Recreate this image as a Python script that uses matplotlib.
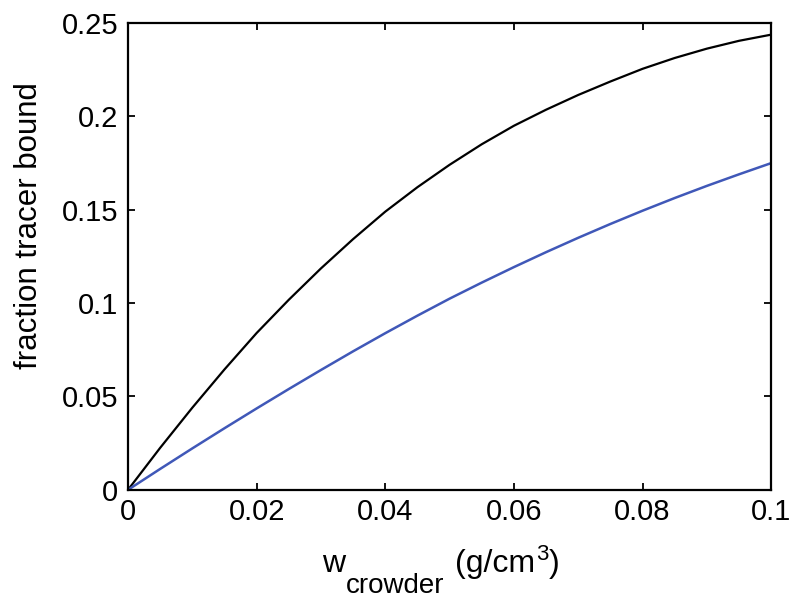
import matplotlib
matplotlib.use('Agg')
import matplotlib.pyplot as plt

# ── values ────────────────────────────────────────────────────────────────
w_crowder = [0.0, 0.005, 0.01, 0.015, 0.02, 0.025, 0.03, 0.035, 0.04, 0.045, 0.05,
             0.055, 0.06, 0.065, 0.07, 0.075, 0.08, 0.085, 0.09, 0.095, 0.1]
bound_black = [0.0, 0.0225, 0.044, 0.0645, 0.084, 0.1018, 0.1186, 0.1343, 0.149, 0.1621, 0.1741,
               0.1851, 0.195, 0.2036, 0.2115, 0.2187, 0.2255, 0.2313, 0.2363, 0.2405, 0.2438]
bound_blue = [0.0, 0.0112, 0.0222, 0.033, 0.0436, 0.054, 0.0642, 0.0742, 0.0839, 0.0933, 0.1024,
              0.111, 0.1193, 0.1273, 0.135, 0.1424, 0.1495, 0.1563, 0.1628, 0.169, 0.175]

xticks = [0, 0.02, 0.04, 0.06, 0.08, 0.1]
xtick_labels = ['0', '0.02', '0.04', '0.06', '0.08', '0.1']
yticks = [0, 0.05, 0.1, 0.15, 0.2, 0.25]
ytick_labels = ['0', '0.05', '0.1', '0.15', '0.2', '0.25']

plt.rcParams['font.family'] = ['Liberation Sans', 'DejaVu Sans']

fig = plt.figure(figsize=(8, 6.07), dpi=100)
# axes box: 128..771 px across, 23..490 px down
ax = fig.add_axes([0.16, 0.193, 0.804, 0.769])

ax.plot(w_crowder, bound_black, color='black', lw=1.6, solid_joinstyle='round')
ax.plot(w_crowder, bound_blue, color='#4058b8', lw=1.8, solid_joinstyle='round')

ax.set_xlim(0, 0.1)
ax.set_ylim(0, 0.25)
ax.set_xticks(xticks)
ax.set_xticklabels(xtick_labels)
ax.set_yticks(yticks)
ax.set_yticklabels(ytick_labels)
ax.tick_params(direction='in', length=5, width=1.3, top=True, right=True,
               labelsize=21)
ax.tick_params(axis='x', pad=6)
ax.tick_params(axis='y', pad=7)
for s in ax.spines.values():
    s.set_linewidth(1.6)

ax.set_ylabel('fraction tracer bound', fontsize=22.5)
ax.yaxis.set_label_coords(-0.13, 0.567)

# x label built from pieces so the subscript stays near full size
t1 = fig.text(322, 35, 'w', transform=None, fontsize=23, ha='left', va='baseline')
t2 = ax.annotate('crowder', xy=(1, 0), xycoords=t1, xytext=(1, -14),
                 textcoords='offset pixels', fontsize=20, ha='left', va='baseline')
t3 = ax.annotate('(g/cm', xy=(1, 0), xycoords=(t2, t1), xytext=(10, 7),
                 textcoords='offset pixels', fontsize=23, ha='left', va='baseline')
t4 = ax.annotate('3', xy=(1, 1), xycoords=t3, xytext=(1, 5),
                 textcoords='offset pixels', fontsize=16, ha='left', va='top')
t5 = ax.annotate(')', xy=(1, 0), xycoords=(t4, t3), xytext=(1, 0),
                 textcoords='offset pixels', fontsize=23, ha='left', va='bottom')

fig.savefig('out.png', dpi=100)
